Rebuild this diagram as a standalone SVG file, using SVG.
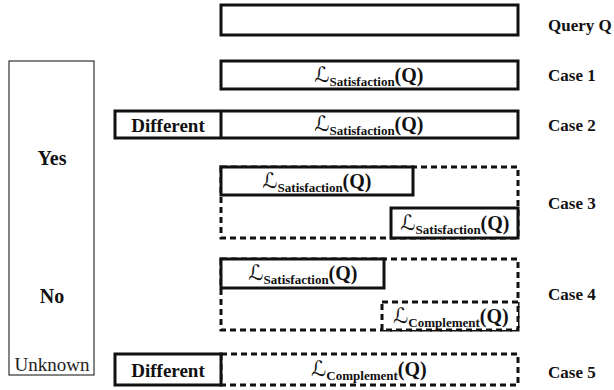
<svg xmlns="http://www.w3.org/2000/svg" width="614" height="390" viewBox="0 0 614 390">
<style>
.solid{fill:#fff;stroke:#111;stroke-width:3}
.dash{fill:none;stroke:#111;stroke-width:3;stroke-dasharray:6 4}
.thin{fill:#fff;stroke:#333;stroke-width:1.2}
.lbl{font-family:'Liberation Serif','Times New Roman',serif;font-weight:bold;font-size:17px;fill:#111}
.big{font-size:20px}
.diff{font-size:19px}
.mid{text-anchor:middle}
.reg{font-family:'Liberation Serif','Times New Roman',serif;font-size:19px;fill:#222}
.f{font-family:'Liberation Serif','Times New Roman',serif;fill:#111;text-anchor:middle}
.L{font-family:'DejaVu Sans',sans-serif;font-size:21px;font-weight:normal}
.sub{font-weight:bold;font-size:13px}
.q{font-weight:bold;font-size:20px}
</style>
<rect width="614" height="390" fill="#fff"/>
<g id="side">
<rect class="thin" x="9" y="61" width="85" height="314"/>
<text class="lbl big mid" x="52" y="165">Yes</text>
<text class="lbl big mid" x="52" y="303">No</text>
<text class="reg mid" x="52" y="371">Unknown</text>
</g>
<g id="query">
<rect class="solid" x="221" y="5" width="297" height="30"/>
<text class="lbl" x="548" y="31">Query Q</text>
</g>
<g id="case1">
<rect class="solid" x="221" y="61" width="297" height="28"/>
<text class="f" x="369" y="82"><tspan class="L">ℒ</tspan><tspan class="sub" dy="4">Satisfaction</tspan><tspan class="q" dy="-4">(Q)</tspan></text>
<text class="lbl" x="548" y="81">Case 1</text>
</g>
<g id="case2">
<rect class="solid" x="115" y="111" width="403" height="27"/>
<line x1="221" y1="111" x2="221" y2="138" stroke="#111" stroke-width="3"/>
<text class="lbl diff mid" x="168" y="132">Different</text>
<text class="f" x="369" y="131"><tspan class="L">ℒ</tspan><tspan class="sub" dy="4">Satisfaction</tspan><tspan class="q" dy="-4">(Q)</tspan></text>
<text class="lbl" x="548" y="131">Case 2</text>
</g>
<g id="case3">
<rect class="dash" x="221" y="167" width="297" height="71"/>
<rect class="solid" x="221" y="167" width="192" height="28"/>
<rect class="solid" x="391" y="208" width="127" height="30"/>
<text class="f" x="317" y="188"><tspan class="L">ℒ</tspan><tspan class="sub" dy="4">Satisfaction</tspan><tspan class="q" dy="-4">(Q)</tspan></text>
<text class="f" x="455" y="230"><tspan class="L">ℒ</tspan><tspan class="sub" dy="4">Satisfaction</tspan><tspan class="q" dy="-4">(Q)</tspan></text>
<text class="lbl" x="548" y="209">Case 3</text>
</g>
<g id="case4">
<rect class="dash" x="221" y="259" width="297" height="71"/>
<rect class="solid" x="221" y="259" width="163" height="29"/>
<rect class="dash" x="382" y="302" width="136" height="28" style="fill:#fff"/>
<text class="f" x="303" y="280"><tspan class="L">ℒ</tspan><tspan class="sub" dy="4">Satisfaction</tspan><tspan class="q" dy="-4">(Q)</tspan></text>
<text class="f" x="451" y="323"><tspan class="L">ℒ</tspan><tspan class="sub" dy="4">Complement</tspan><tspan class="q" dy="-4">(Q)</tspan></text>
<text class="lbl" x="548" y="300">Case 4</text>
</g>
<g id="case5">
<rect class="dash" x="221" y="354" width="297" height="31"/>
<rect class="solid" x="115" y="354" width="106" height="31"/>
<text class="lbl diff mid" x="168" y="377">Different</text>
<text class="f" x="369" y="376"><tspan class="L">ℒ</tspan><tspan class="sub" dy="4">Complement</tspan><tspan class="q" dy="-4">(Q)</tspan></text>
<text class="lbl" x="548" y="378">Case 5</text>
</g>
<g id="connectors"></g>
</svg>
